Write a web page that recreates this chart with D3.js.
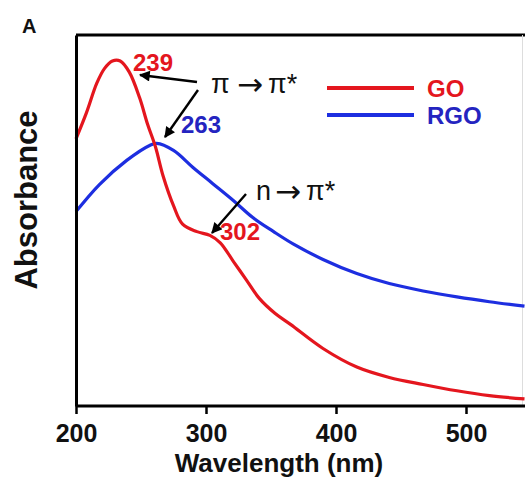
<!DOCTYPE html>
<html>
<head>
  <meta charset="utf-8">
  <title>UV-vis GO / RGO</title>
  <script src="https://d3js.org/d3.v7.min.js"></script>
  <style>
    body { margin: 0; background: #fff; }
  </style>
</head>
<body>
  <script>
    // data (absorbance in arbitrary units, 0..1 of the frame)
    const goWave = [200, 208, 216, 222, 228, 234, 241, 249, 255, 261, 267, 275, 282, 293, 303, 311, 321, 331, 341, 353, 365, 390, 416, 441, 467, 493, 518, 545];
    const goAbs  = [0.72, 0.79, 0.87, 0.91, 0.93, 0.93, 0.90, 0.83, 0.76, 0.70, 0.62, 0.54, 0.49, 0.47, 0.46, 0.44, 0.39, 0.34, 0.29, 0.25, 0.22, 0.155, 0.105, 0.077, 0.058, 0.041, 0.028, 0.019];
    const rgoWave = [200, 218, 239, 257, 262, 275, 290, 305, 321, 336, 352, 367, 390, 416, 441, 467, 493, 518, 545];
    const rgoAbs  = [0.524, 0.597, 0.662, 0.703, 0.708, 0.689, 0.643, 0.600, 0.554, 0.508, 0.470, 0.437, 0.395, 0.357, 0.330, 0.310, 0.294, 0.281, 0.269];
    const xTicks = [200, 300, 400, 500];
    const seriesNames = ['GO', 'RGO'];

    const width = 525, height = 482;
    const red = '#e4161e', blue = '#1d2ee0';
    const sans = '"Liberation Sans", Arial, sans-serif';

    const svg = d3.select('body').append('svg')
      .attr('width', width)
      .attr('height', height)
      .attr('font-family', sans);

    const x = d3.scaleLinear().domain([200, 545]).range([76, 524.5]);
    const y = d3.scaleLinear().domain([0, 1]).range([406, 35]);

    // arrow head
    svg.append('defs').append('marker')
      .attr('id', 'head')
      .attr('viewBox', '0 0 10 10')
      .attr('refX', 9).attr('refY', 5)
      .attr('markerWidth', 5).attr('markerHeight', 4.5)
      .attr('markerUnits', 'strokeWidth')
      .attr('orient', 'auto')
      .append('path').attr('d', 'M0,0L10,5L0,10z').attr('fill', '#000');

    // frame
    svg.append('line')
      .attr('x1', x(200)).attr('x2', width).attr('y1', 35).attr('y2', 35)
      .attr('stroke', '#000').attr('stroke-width', 3);
    svg.append('line')
      .attr('x1', 522.5).attr('x2', 522.5).attr('y1', 35).attr('y2', 406)
      .attr('stroke', '#ddd').attr('stroke-width', 1);

    // curves
    const line = d3.line()
      .x(d => x(d[0]))
      .y(d => y(d[1]))
      .curve(d3.curveCatmullRom.alpha(0.5));

    svg.append('path')
      .datum(d3.zip(rgoWave, rgoAbs))
      .attr('d', line)
      .attr('fill', 'none').attr('stroke', blue).attr('stroke-width', 3.2);
    svg.append('path')
      .datum(d3.zip(goWave, goAbs))
      .attr('d', line)
      .attr('fill', 'none').attr('stroke', red).attr('stroke-width', 3.2);

    // axes
    const xAxis = svg.append('g')
      .attr('transform', 'translate(0,' + y(0) + ')')
      .call(d3.axisBottom(x).tickValues(xTicks).tickSize(8).tickSizeOuter(0).tickPadding(10));
    xAxis.attr('font-family', sans).attr('font-size', 25).attr('font-weight', 'bold');
    xAxis.select('.domain').attr('stroke-width', 3).attr('d', 'M' + x(200) + ',0H' + width);
    xAxis.selectAll('.tick line').attr('stroke-width', 2.5);
    xAxis.selectAll('.tick text').attr('fill', '#111');

    const yAxis = svg.append('g')
      .attr('transform', 'translate(' + x(200) + ',0)')
      .call(d3.axisLeft(y).tickValues([]).tickSizeOuter(0));
    yAxis.select('.domain').attr('stroke-width', 3);

    // axis titles
    svg.append('text')
      .attr('x', 279).attr('y', 472)
      .attr('text-anchor', 'middle')
      .attr('font-size', 26).attr('font-weight', 'bold').attr('fill', '#111')
      .text('Wavelength (nm)');
    svg.append('text')
      .attr('transform', 'translate(37,200) rotate(-90)')
      .attr('text-anchor', 'middle')
      .attr('font-size', 31).attr('font-weight', 'bold').attr('fill', '#111')
      .text('Absorbance');
    svg.append('text')
      .attr('x', 22).attr('y', 33)
      .attr('font-size', 20).attr('font-weight', 'bold').attr('fill', '#111')
      .text('A');

    // legend
    const legend = svg.append('g');
    [red, blue].forEach((c, i) => {
      const ly = 88 + i * 27;
      legend.append('line')
        .attr('x1', 327).attr('x2', 414).attr('y1', ly).attr('y2', ly)
        .attr('stroke', c).attr('stroke-width', 4);
      legend.append('text')
        .attr('x', 427).attr('y', ly + 9)
        .attr('font-size', 24).attr('font-weight', 'bold')
        .attr('fill', i === 0 ? red : '#2424c0')
        .text(seriesNames[i]);
    });

    // peak labels
    const peak = (t, px, py, c) => svg.append('text')
      .attr('x', px).attr('y', py)
      .attr('font-size', 24).attr('font-weight', 'bold').attr('fill', c)
      .text(t);
    peak('239', 133, 71, red);
    peak('263', 181, 133, '#2424c0');
    peak('302', 220, 240, red);

    // transition labels: start glyph, big arrow, pi*
    const trans = (first, px, py, ax, sx) => {
      const t = svg.append('text').attr('y', py).attr('fill', '#111')
        .attr('font-family', sans).attr('font-size', 27);
      t.append('tspan').attr('x', px).text(first);
      t.append('tspan').attr('x', px + ax).attr('dy', 2)
        .attr('font-family', '"DejaVu Sans", sans-serif').attr('font-size', 31)
        .text('\u2192');
      t.append('tspan').attr('x', px + sx).attr('dy', -2).text('\u03c0*');
    };
    trans('\u03c0', 211, 93, 26, 57);
    trans('n', 256, 200, 19, 50);

    // arrows
    const arrow = (x1, y1, x2, y2) => svg.append('line')
      .attr('x1', x1).attr('y1', y1).attr('x2', x2).attr('y2', y2)
      .attr('stroke', '#000').attr('stroke-width', 2.4)
      .attr('marker-end', 'url(#head)');
    arrow(197, 82, 140, 75);
    arrow(198, 90, 165, 137);
    arrow(246, 194, 212, 233);
  </script>
</body>
</html>
